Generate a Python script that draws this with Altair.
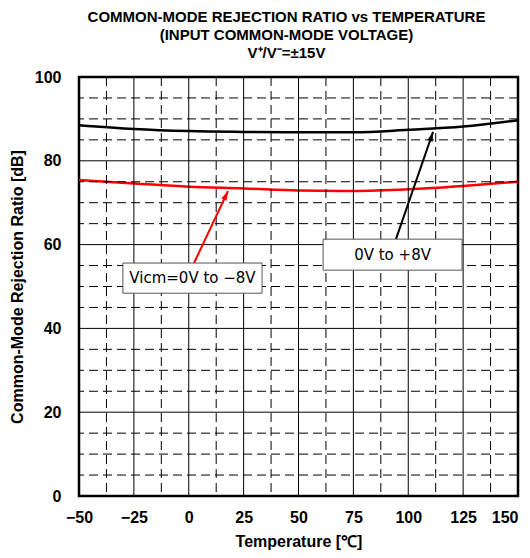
import altair as alt
import pandas as pd

temps = [-50, -25, 0, 25, 50, 75, 100, 125, 150]
cmrr_pos = [88.5, 87.6, 87.1, 86.9, 86.8, 86.8, 87.4, 88.2, 89.7]   # 0V to +8V (black)
cmrr_neg = [75.4, 74.6, 73.8, 73.4, 72.9, 72.8, 73.2, 74.0, 75.0]   # 0V to -8V (red)

x_ticks = [-50, -25, 0, 25, 50, 75, 100, 125, 150]
y_ticks = [0, 20, 40, 60, 80, 100]
x_major = [-25, 0, 25, 50, 75, 100, 125]
x_minor = [-37.5, -12.5, 12.5, 37.5, 62.5, 87.5, 112.5, 137.5]
y_major = [20, 40, 60, 80]
y_minor = [5, 10, 15, 25, 30, 35, 45, 50, 55, 65, 70, 75, 85, 90, 95]

labels = ["Vicm=0V to \u22128V", "0V to +8V"]
label_colors = ["red", "black"]
box_x = [-30.0, 61.2]
box_x2 = [33.4, 124.5]
box_y = [48.4, 53.9]
box_y2 = [55.6, 61.3]
arrow_x = [2.4, 94.4]
arrow_y = [55.6, 61.3]
arrow_tip_x = [17.9, 111.3]
arrow_tip_y = [72.8, 86.9]
arrow_angle = [25, 19]

xs = alt.Scale(domain=[-50, 150], nice=False, zero=False)
ys = alt.Scale(domain=[0, 100], nice=False)

X_AX = alt.Axis(
    values=x_ticks, title="Temperature [\u2103]",
    grid=False, ticks=False, domain=False, labelPadding=13,
    labelAlign=alt.ExprRef(expr="datum.value == 150 ? 'right' : 'center'"),
    labelFont="Liberation Sans", labelFontWeight="bold", labelFontSize=16, labelColor="black",
    titleFont="Liberation Sans", titleFontWeight="bold", titleFontSize=16, titleColor="black",
    titlePadding=8, labelFlush=False)
Y_AX = alt.Axis(
    values=y_ticks, title="Common-Mode Rejection Ratio [dB]",
    grid=False, ticks=False, domain=False, labelPadding=18,
    labelFont="Liberation Sans", labelFontWeight="bold", labelFontSize=16, labelColor="black",
    titleFont="Liberation Sans", titleFontWeight="bold", titleFontSize=16, titleColor="black",
    titlePadding=9, labelFlush=False)

W, H = 439, 419

df = pd.DataFrame({
    "t": temps * 2,
    "v": cmrr_pos + cmrr_neg,
    "s": ["pos"] * len(temps) + ["neg"] * len(temps),
})

ann = pd.DataFrame({
    "label": labels, "c": label_colors,
    "bx": box_x, "bx2": box_x2, "by": box_y, "by2": box_y2,
    "ax": arrow_x, "ay": arrow_y, "tx": arrow_tip_x, "ty": arrow_tip_y,
    "ang": arrow_angle,
})
ann["cx"] = (ann["bx"] + ann["bx2"]) / 2
ann["cy"] = (ann["by"] + ann["by2"]) / 2

lines = alt.Chart(df).mark_line(strokeWidth=2.5, interpolate="monotone").encode(
    x=alt.X("t:Q", scale=xs, axis=X_AX),
    y=alt.Y("v:Q", scale=ys, axis=Y_AX),
    color=alt.Color("s:N", scale=alt.Scale(domain=["pos", "neg"], range=["black", "red"]), legend=None),
)

gx_major = alt.Chart(pd.DataFrame({"x": x_major})).mark_rule(color="black", strokeWidth=1).encode(
    x=alt.X("x:Q", scale=xs, axis=X_AX))
gx_minor = alt.Chart(pd.DataFrame({"x": x_minor})).mark_rule(color="black", strokeWidth=1, strokeDash=[9, 5]).encode(
    x=alt.X("x:Q", scale=xs, axis=X_AX))
gy_major = alt.Chart(pd.DataFrame({"y": y_major})).mark_rule(color="black", strokeWidth=1).encode(
    y=alt.Y("y:Q", scale=ys, axis=Y_AX))
gy_minor = alt.Chart(pd.DataFrame({"y": y_minor})).mark_rule(color="black", strokeWidth=1, strokeDash=[9, 5]).encode(
    y=alt.Y("y:Q", scale=ys, axis=Y_AX))

base = alt.Chart(ann)
arrows = base.mark_rule(strokeWidth=2).encode(
    x=alt.X("ax:Q", scale=xs, axis=X_AX), y=alt.Y("ay:Q", scale=ys, axis=Y_AX),
    x2="tx:Q", y2="ty:Q",
    color=alt.Color("c:N", scale=None))
heads = base.mark_point(shape="M0,0L-0.6,2L0.6,2Z", filled=True, size=90, opacity=1).encode(
    x=alt.X("tx:Q", scale=xs, axis=X_AX), y=alt.Y("ty:Q", scale=ys, axis=Y_AX),
    angle=alt.Angle("ang:Q", scale=None),
    color=alt.Color("c:N", scale=None))
boxes = base.mark_rect(fill="white", stroke="#555555", strokeWidth=1).encode(
    x=alt.X("bx:Q", scale=xs, axis=X_AX), x2="bx2:Q",
    y=alt.Y("by:Q", scale=ys, axis=Y_AX), y2="by2:Q")
texts = base.mark_text(font="DejaVu Sans", fontSize=15, color="black").encode(
    x=alt.X("cx:Q", scale=xs, axis=X_AX), y=alt.Y("cy:Q", scale=ys, axis=Y_AX), text="label:N")

chart = alt.layer(
    lines, gx_minor, gy_minor, gx_major, gy_major, arrows, heads, boxes, texts
).properties(
    width=W, height=H,
    title=alt.TitleParams(
        text=["COMMON-MODE REJECTION RATIO vs TEMPERATURE", "(INPUT COMMON-MODE VOLTAGE)",
              "V\u207a/V\u207b=\u00b115V"],
        font="Liberation Sans", fontSize=15, fontWeight="bold", color="black",
        anchor="middle", lineHeight=18, offset=8, dx=-12),
    autosize=alt.AutoSizeParams(type="none"),
    padding={"left": 71, "top": 69, "right": 4, "bottom": 54},
).configure_view(stroke="black", strokeWidth=2.5)

chart.save("out.html", embed_options={"renderer": "svg", "actions": False})
